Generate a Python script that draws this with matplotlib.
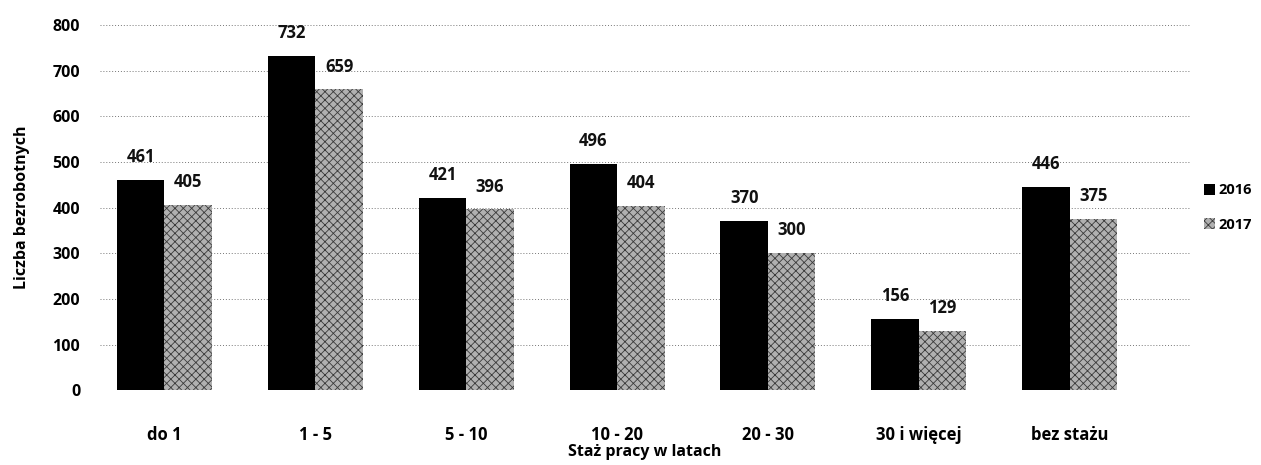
import matplotlib
matplotlib.use("Agg")
import matplotlib.pyplot as plt
import numpy as np

plt.rcParams['font.family'] = ['Open Sans', 'DejaVu Sans']
plt.rcParams['hatch.linewidth'] = 0.6

categories = ["do 1", "1 - 5", "5 - 10", "10 - 20", "20 - 30", "30 i więcej", "bez stażu"]
values_2016 = [461, 732, 421, 496, 370, 156, 446]
values_2017 = [405, 659, 396, 404, 300, 129, 375]
series_names = ["2016", "2017"]
yticks = [0, 100, 200, 300, 400, 500, 600, 700, 800]

fig = plt.figure(figsize=(12.61, 4.65), dpi=100)
ax = fig.add_axes([0.079, 0.161, 0.865, 0.785])

x = np.arange(len(categories))
w = 0.315
b1 = ax.bar(x - w/2, values_2016, w, color='black', label=series_names[0], zorder=3)
b2 = ax.bar(x + w/2, values_2017, w, facecolor='#b0b0b0', edgecolor='#3a3a3a',
            hatch='xxxx', linewidth=0, label=series_names[1], zorder=3)

for bars in (b1, b2):
    for r in bars:
        ax.annotate(f"{int(r.get_height())}", (r.get_x() + r.get_width()/2, r.get_height()),
                    xytext=(0, 10), textcoords='offset points', ha='center', va='bottom',
                    fontsize=12, fontweight='bold', color='#111111')

ax.set_ylim(0, 800)
ax.set_xlim(-0.43, 6.8)
ax.set_yticks(yticks)
ax.set_yticklabels([str(t) for t in yticks], fontsize=11.5, fontweight='bold')
ax.set_xticks(x)
ax.set_xticklabels(categories, fontsize=12, fontweight='bold')
ax.tick_params(axis='y', length=0, pad=14)
ax.tick_params(axis='x', length=0, pad=26)
ax.yaxis.grid(True, linestyle=(0, (1, 2)), color='#777777', linewidth=0.7, zorder=0)
for s in ax.spines.values():
    s.set_visible(False)

ax.set_ylabel("Liczba bezrobotnych", fontsize=11.5, fontweight='bold', labelpad=16)
ax.set_xlabel("Staż pracy w latach", fontsize=11.5, fontweight='bold', labelpad=0)

leg = ax.legend(loc='center left', bbox_to_anchor=(1.0, 0.5), frameon=False,
                prop={'size': 10.5, 'weight': 'bold'}, handlelength=0.8, handleheight=0.8,
                handletextpad=0.2, labelspacing=1.4)

fig.savefig("out.png", dpi=100)
